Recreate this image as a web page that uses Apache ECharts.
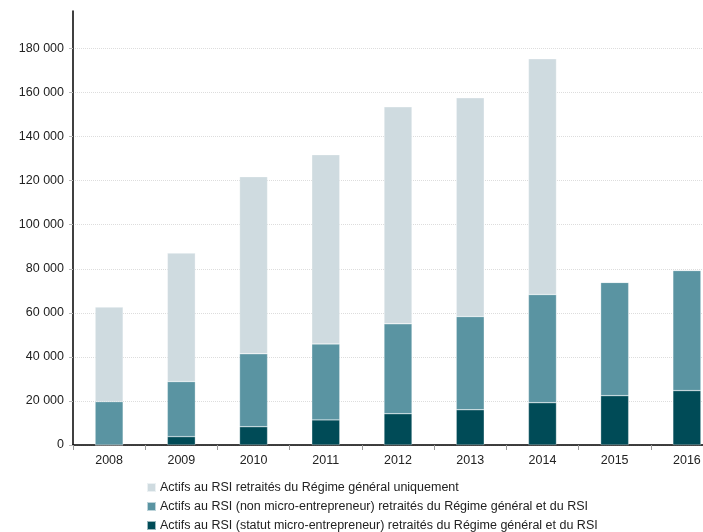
<!DOCTYPE html>
<html><head><meta charset="utf-8">
<script src="https://cdn.jsdelivr.net/npm/echarts@6/dist/echarts.min.js"></script>
<style>html,body{margin:0;padding:0;background:#fff}#c{width:703px;height:532px}</style>
</head><body><div id="c"></div>
<script>
var categories = ['2008','2009','2010','2011','2012','2013','2014','2015','2016'];
var seriesNames = [
  'Actifs au RSI retraités du Régime général uniquement',
  'Actifs au RSI (non micro-entrepreneur) retraités du Régime général et du RSI',
  'Actifs au RSI (statut micro-entrepreneur) retraités du Régime général et du RSI'
];
var microValues = [0, 3800, 8300, 11400, 14200, 16000, 19200, 22400, 24700];
var nonMicroValues = [19700, 25000, 33100, 34500, 40800, 42300, 49100, 51400, 54500];
var rgOnlyValues = [42900, 58300, 80400, 85900, 98500, 99300, 107000, 0, 0];

function fmt(v){ return String(v).replace(/\B(?=(\d{3})+(?!\d))/g, ' '); }

var chart = echarts.init(document.getElementById('c'));
var font = 'Liberation Sans, Arial, sans-serif';
function bar(name, data, color){
  return {name:name, type:'bar', stack:'t', data:data, barWidth:28,
    itemStyle:{color:color, borderColor:'rgba(255,255,255,0.6)', borderWidth:0.5},
    emphasis:{disabled:true}};
}
chart.setOption({
  animation:false,
  textStyle:{fontFamily:font},
  grid:{left:73, top:11, width:650, bottom:87, outerBoundsMode:'none', containLabel:false},
  legend:{
    orient:'vertical', left:146, top:481, height:80, width:600, padding:0, itemGap:6, itemWidth:9, itemHeight:9,
    icon:'rect', selectedMode:false,
    textStyle:{fontSize:12.5, lineHeight:13, color:'#222', fontFamily:font, padding:[0,0,0,-1]},
    data:[seriesNames[0], seriesNames[1], seriesNames[2]]
  },
  xAxis:{type:'category', data:categories,
    axisLine:{lineStyle:{color:'#000', width:1.5}},
    axisTick:{show:true, length:5, lineStyle:{color:'#999'}},
    axisLabel:{color:'#222', fontSize:12.5, margin:9}},
  yAxis:{type:'value', min:0, max:197000, interval:20000,
    axisLine:{show:true, lineStyle:{color:'#000', width:1.5}},
    axisTick:{show:true, length:4, lineStyle:{color:'#bbb'}},
    axisLabel:{color:'#222', fontSize:12.5, margin:9, showMaxLabel:false, formatter:fmt},
    splitLine:{show:true, showMaxLine:false, lineStyle:{color:'#ddd', type:'dotted'}}},
  series:[
    bar(seriesNames[2], microValues, '#004b57'),
    bar(seriesNames[1], nonMicroValues, '#5a94a2'),
    bar(seriesNames[0], rgOnlyValues, '#cfdbe0')
  ]
});
</script></body></html>
